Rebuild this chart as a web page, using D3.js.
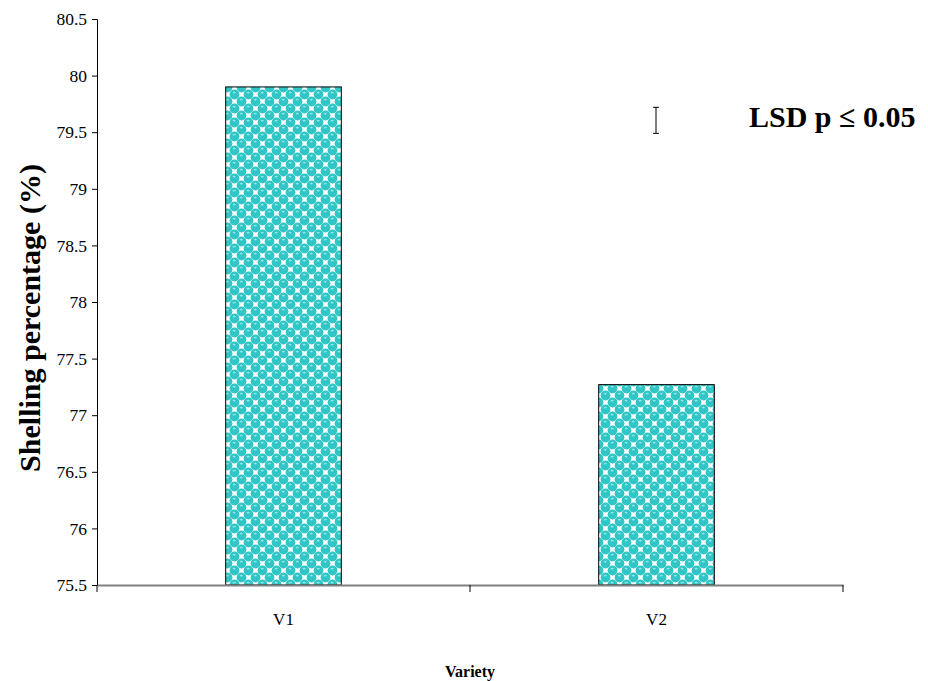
<!DOCTYPE html>
<html>
<head>
<meta charset="utf-8">
<script src="https://cdn.jsdelivr.net/npm/d3@7"></script>
<style>
  body { margin: 0; background: #fff; }
  text { font-family: "Liberation Serif", "Times New Roman", serif; }
</style>
</head>
<body>
<div id="chart"></div>
<script>
var categories = ['V1', 'V2'];
var values = [79.9, 77.27];
var yTicks = [75.5, 76, 76.5, 77, 77.5, 78, 78.5, 79, 79.5, 80, 80.5];
var lsdRange = [79.49, 79.72];   // LSD bar drawn next to the label

var width = 928,
    height = 681,
    margin = {top: 19, right: 85, bottom: 96, left: 97};

var svg = d3.select('#chart').append('svg')
    .attr('width', width)
    .attr('height', height);

// dotted bubble pattern like the original fill
var defs = svg.append('defs');
var pat = defs.append('pattern')
    .attr('id', 'bubbles')
    .attr('patternUnits', 'userSpaceOnUse')
    .attr('width', 14)
    .attr('height', 14);
pat.append('rect').attr('width', 14).attr('height', 14).attr('fill', '#fff');
[[3.5, 3.5], [10.5, 10.5], [-3.5, 10.5], [17.5, 3.5], [10.5, -3.5], [3.5, 17.5]].forEach(function(c) {
  pat.append('circle').attr('cx', c[0]).attr('cy', c[1]).attr('r', 4.9).attr('fill', '#30c6c6');
  pat.append('ellipse').attr('cx', c[0] - 0.3).attr('cy', c[1] - 1.9).attr('rx', 1.6).attr('ry', 0.9).attr('fill', '#92e4e4');
});

var x = d3.scaleBand()
    .domain(categories)
    .range([margin.left, width - margin.right])
    .paddingInner(0)
    .paddingOuter(0);

var y = d3.scaleLinear()
    .domain([75.5, 80.5])
    .range([height - margin.bottom, margin.top]);

var barW = x.bandwidth() * 0.31;

svg.selectAll('.bar')
  .data(values)
  .enter().append('rect')
    .attr('class', 'bar')
    .attr('x', function(d, i) { return x(categories[i]) + x.bandwidth() / 2 - barW / 2; })
    .attr('y', function(d) { return y(d); })
    .attr('width', barW)
    .attr('height', function(d) { return y(75.5) - y(d); })
    .attr('fill', 'url(#bubbles)')
    .attr('stroke', '#000')
    .attr('stroke-width', 1);

// y axis
var yAxis = svg.append('g')
    .attr('transform', 'translate(' + margin.left + ',0)')
    .call(d3.axisLeft(y).tickValues(yTicks).tickSize(5).tickFormat(function(d) { return d; }));
yAxis.select('.domain').attr('stroke', '#000');
yAxis.selectAll('.tick line').attr('stroke', '#000');
yAxis.selectAll('.tick text')
    .attr('font-size', 17.5)
    .attr('fill', '#000')
    .attr('x', -10)
    .style('font-family', '"Liberation Serif", serif');

// x axis
var xAxis = svg.append('g')
    .attr('transform', 'translate(0,' + y(75.5) + ')')
    .call(d3.axisBottom(x).tickSize(0).tickPadding(28));
xAxis.select('.domain').attr('stroke', '#808080').attr('stroke-width', 2);
xAxis.selectAll('.tick text')
    .attr('font-size', 17)
    .attr('fill', '#000')
    .style('font-family', '"Liberation Serif", serif');

// category dividers
var dividers = [margin.left, x(categories[1]), width - margin.right];
svg.selectAll('.div-tick')
  .data(dividers)
  .enter().append('line')
    .attr('x1', function(d) { return d; })
    .attr('x2', function(d) { return d; })
    .attr('y1', y(75.5))
    .attr('y2', y(75.5) + 7)
    .attr('stroke', '#000');

// LSD bar
var lsdX = 656;
var lsd = svg.append('g').attr('stroke', '#000').attr('stroke-width', 1);
lsd.append('line').attr('x1', lsdX).attr('x2', lsdX).attr('y1', y(lsdRange[0])).attr('y2', y(lsdRange[1]));
lsd.append('line').attr('x1', lsdX - 3).attr('x2', lsdX + 3).attr('y1', y(lsdRange[0])).attr('y2', y(lsdRange[0]));
lsd.append('line').attr('x1', lsdX - 3).attr('x2', lsdX + 3).attr('y1', y(lsdRange[1])).attr('y2', y(lsdRange[1]));

svg.append('text')
    .attr('x', 749)
    .attr('y', 127)
    .attr('font-size', 30)
    .attr('font-weight', 'bold')
    .text('LSD p \u2264 0.05');

// axis titles
svg.append('text')
    .attr('transform', 'translate(40,318) rotate(-90)')
    .attr('text-anchor', 'middle')
    .attr('font-size', 30)
    .attr('font-weight', 'bold')
    .text('Shelling percentage (%)');

svg.append('text')
    .attr('x', (margin.left + width - margin.right) / 2)
    .attr('y', 677)
    .attr('text-anchor', 'middle')
    .attr('font-size', 16)
    .attr('font-weight', 'bold')
    .text('Variety');
</script>
</body>
</html>
